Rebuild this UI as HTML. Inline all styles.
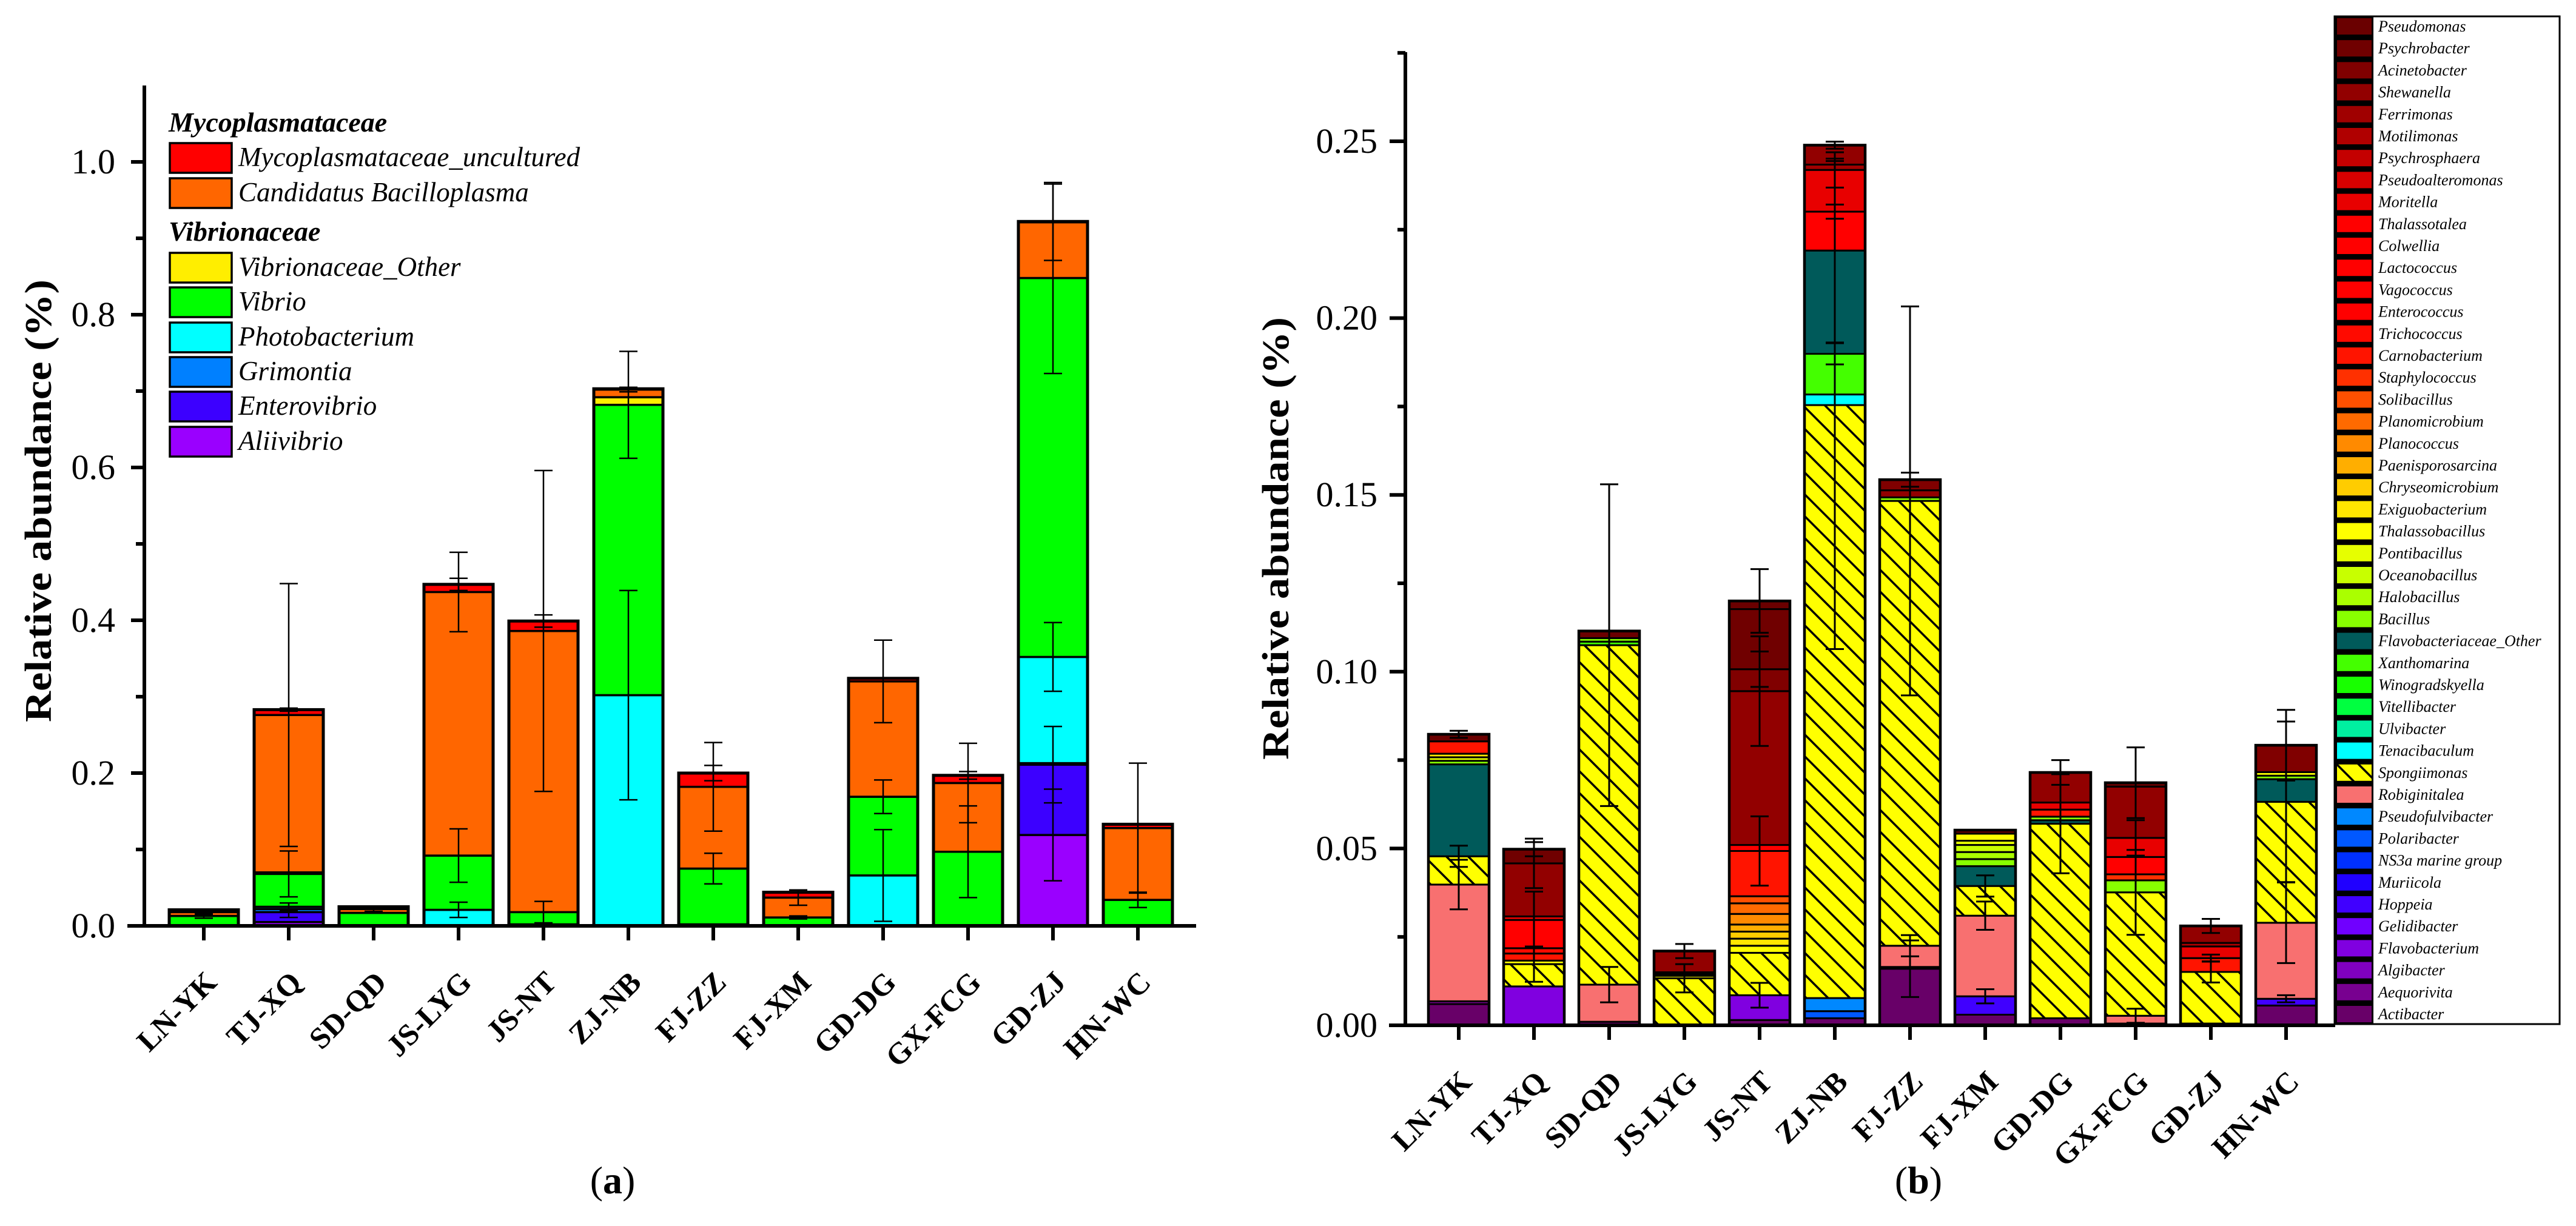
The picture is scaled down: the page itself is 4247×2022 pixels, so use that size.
<!DOCTYPE html>
<html><head><meta charset="utf-8"><style>
html,body{margin:0;padding:0;background:#fff;}
svg{display:block;}
svg text{font-family:"Liberation Serif","DejaVu Serif",serif;}
</style></head><body>
<svg id="fig" xmlns="http://www.w3.org/2000/svg" width="4247" height="2022" viewBox="0 0 4247 2022" font-family="Liberation Serif, serif">
<defs>
<pattern id="hatch" patternUnits="userSpaceOnUse" width="36" height="36">
<rect width="36" height="36" fill="#ffff00"/>
<path d="M-9,-9 L45,45 M-9,27 L9,45 M27,-9 L45,9" stroke="#000" stroke-width="3.5"/>
</pattern>
</defs>
<rect width="4247" height="2022" fill="#fff"/>
<g id="pa"></g>
<g id="pb"></g>
</svg>
<script>
const sites = ["LN-YK","TJ-XQ","SD-QD","JS-LYG","JS-NT","ZJ-NB","FJ-ZZ","FJ-XM","GD-DG","GX-FCG","GD-ZJ","HN-WC"];

// ---- Panel A data (bottom to top) ----
const aSeries = ["Aliivibrio","Enterovibrio","Grimontia","Photobacterium","Vibrio","Vibrionaceae_Other","Candidatus Bacilloplasma","Mycoplasmataceae_uncultured"];
const aColors = ["#9a00ff","#3c00ff","#0080ff","#00ffff","#00ff00","#ffee00","#ff6600","#ff0000"];
const aAliivibrio = [0,0.005,0,0,0,0,0,0,0,0,0.119,0];
const aEnterovibrio = [0,0.013,0,0,0,0,0,0,0,0,0.092,0];
const aGrimontia = [0,0.004,0,0,0,0,0,0,0,0,0.002,0];
const aPhotobacterium = [0,0.003,0,0.021,0.002,0.302,0.002,0,0.066,0,0.139,0];
const aVibrio = [0.013,0.043,0.017,0.071,0.016,0.380,0.073,0.011,0.103,0.097,0.496,0.034];
const aOther = [0,0.002,0,0,0,0.010,0,0,0,0,0,0];
const aCandidatus = [0.005,0.206,0.005,0.345,0.368,0.010,0.107,0.026,0.151,0.090,0.073,0.094];
const aMyco = [0.003,0.007,0.003,0.010,0.013,0.001,0.018,0.007,0.004,0.010,0.001,0.005];
const aValues = [aAliivibrio,aEnterovibrio,aGrimontia,aPhotobacterium,aVibrio,aOther,aCandidatus,aMyco];
const aErrors = [[0,4,0.003],[0,6,0.003],[1,1,0.007],[1,3,0.005],[1,4,0.03],[1,6,0.172],[1,7,0.002],[2,6,0.003],
[3,3,0.01],[3,4,0.035],[3,6,0.052],[3,7,0.008],[4,4,0.014],[4,6,0.21],[4,7,0.008],[5,3,0.137],[5,4,0.07],[5,6,0.003],
[6,4,0.02],[6,6,0.058],[6,7,0.01],[7,4,0.002],[7,6,0.01],[8,3,0.06],[8,4,0.022],[8,6,0.054],[9,4,0.06],[9,6,0.052],[9,7,0.005],
[10,0,0.06],[10,1,0.05],[10,3,0.045],[10,4,0.125],[10,6,0.05],[11,4,0.01],[11,6,0.085]];
const aTicks = ["0.0","0.2","0.4","0.6","0.8","1.0"];

// ---- Panel B data ----
const bLegend = ["Pseudomonas","Psychrobacter","Acinetobacter","Shewanella","Ferrimonas","Motilimonas","Psychrosphaera","Pseudoalteromonas","Moritella","Thalassotalea","Colwellia","Lactococcus","Vagococcus","Enterococcus","Trichococcus","Carnobacterium","Staphylococcus","Solibacillus","Planomicrobium","Planococcus","Paenisporosarcina","Chryseomicrobium","Exiguobacterium","Thalassobacillus","Pontibacillus","Oceanobacillus","Halobacillus","Bacillus","Flavobacteriaceae_Other","Xanthomarina","Winogradskyella","Vitellibacter","Ulvibacter","Tenacibaculum","Spongiimonas","Robiginitalea","Pseudofulvibacter","Polaribacter","NS3a marine group","Muriicola","Hoppeia","Gelidibacter","Flavobacterium","Algibacter","Aequorivita","Actibacter"];
const bColors = ["#6a0000","#700000","#800000","#920000","#a00000","#b00000","#c40000","#d80000","#e80000","#ff0000","#ff0000","#ff0000","#ff0000","#ff0000","#ff0a00","#ff1400","#ff3000","#ff5000","#ff6a00","#ff8a00","#ffae00","#ffcc00","#ffe600","#ffff00","#e6ff00","#c8ff00","#aaff00","#88ff00","#005a5a","#44ff00","#18ff00","#00ff40","#00f0a0","#00ffff","url(#hatch)","#f87070","#0088ff","#0058ff","#0030ff","#2000ff","#4000ff","#7000ff","#8000e0","#8000c0","#780090","#680068"];
const bActibacter = [0.006,0,0.001,0,0.0015,0.002,0.016,0.003,0.002,0.0005,0.0005,0.0056];
const bAequorivita = [0.0008,0,0,0,0,0,0.0005,0,0,0,0,0];
const bFlavobacterium = [0,0.011,0,0,0.007,0,0,0,0,0,0,0];
const bHoppeia = [0,0,0,0,0,0,0,0.0052,0,0,0,0.0019];
const bPolaribacter = [0,0,0,0,0,0.002,0,0,0,0,0,0];
const bPseudofulvibacter = [0,0,0,0,0,0.0037,0,0,0,0,0,0];
const bRobiginitalea = [0.033,0,0.0105,0,0,0,0.006,0.0228,0,0.0022,0,0.0215];
const bSpongiimonas = [0.008,0.0063,0.096,0.0133,0.012,0.1677,0.1258,0.0084,0.055,0.0349,0.0146,0.0342];
const bTenacibaculum = [0,0,0,0,0,0.003,0,0,0,0,0,0];
const bXanthomarina = [0,0,0.001,0,0,0.0115,0,0,0,0,0,0];
const bFlavoOther = [0.026,0,0,0,0,0.0292,0,0.0056,0.001,0,0,0.0064];
const bBacillus = [0.001,0,0.001,0,0,0,0.001,0.002,0.001,0.0034,0,0.001];
const bHalobacillus = [0,0,0,0,0,0,0,0.002,0,0,0,0];
const bOceanobacillus = [0,0,0,0,0,0,0,0.002,0,0,0,0];
const bPontibacillus = [0.001,0,0,0,0,0,0,0.0012,0,0,0,0];
const bThalassobacillus = [0,0.001,0,0.0007,0.002,0,0,0.002,0,0,0,0.001];
const bExiguobacterium = [0.001,0,0,0,0.002,0,0,0,0,0,0,0];
const bChryseomicrobium = [0,0,0,0,0.002,0,0,0,0,0,0,0];
const bPaenisporosarcina = [0,0,0,0.0005,0.002,0,0,0,0,0,0,0];
const bPlanococcus = [0,0,0,0,0.003,0,0,0,0,0,0,0];
const bPlanomicrobium = [0,0,0,0.0005,0.003,0,0,0,0,0,0,0];
const bSolibacillus = [0,0,0,0,0.002,0,0,0,0,0,0,0];
const bStaphylococcus = [0,0,0,0,0,0,0,0,0,0.0017,0,0];
const bCarnobacterium = [0.0035,0.002,0,0,0.0128,0,0,0,0.002,0,0.0039,0];
const bTrichococcus = [0,0.0015,0,0,0,0,0,0,0,0,0,0];
const bEnterococcus = [0,0,0,0,0,0,0,0,0,0.0049,0,0];
const bLactococcus = [0,0.008,0,0,0,0.011,0,0,0,0,0,0];
const bThalassotalea = [0,0,0,0,0.0017,0,0,0,0,0,0,0];
const bMoritella = [0,0.001,0,0,0,0.0118,0,0,0.002,0.0054,0.0033,0];
const bMotilimonas = [0,0,0,0,0,0,0,0,0,0,0.001,0];
const bFerrimonas = [0,0,0,0,0,0.0015,0,0,0,0,0,0];
const bShewanella = [0,0.015,0,0.006,0.0435,0.0055,0.002,0,0.0085,0.0145,0.0048,0];
const bAcinetobacter = [0,0,0,0,0.0062,0,0.003,0,0,0,0,0.0076];
const bPsychrobacter = [0,0.004,0,0,0.017,0,0,0,0,0,0,0];
const bPseudomonas = [0.002,0,0.002,0,0.0023,0,0,0.001,0,0.0011,0,0];
const bValueMap = {"Actibacter":bActibacter,"Aequorivita":bAequorivita,"Flavobacterium":bFlavobacterium,"Hoppeia":bHoppeia,"Polaribacter":bPolaribacter,"Pseudofulvibacter":bPseudofulvibacter,"Robiginitalea":bRobiginitalea,"Spongiimonas":bSpongiimonas,"Tenacibaculum":bTenacibaculum,"Xanthomarina":bXanthomarina,"Flavobacteriaceae_Other":bFlavoOther,"Bacillus":bBacillus,"Halobacillus":bHalobacillus,"Oceanobacillus":bOceanobacillus,"Pontibacillus":bPontibacillus,"Thalassobacillus":bThalassobacillus,"Exiguobacterium":bExiguobacterium,"Chryseomicrobium":bChryseomicrobium,"Paenisporosarcina":bPaenisporosarcina,"Planococcus":bPlanococcus,"Planomicrobium":bPlanomicrobium,"Solibacillus":bSolibacillus,"Staphylococcus":bStaphylococcus,"Carnobacterium":bCarnobacterium,"Trichococcus":bTrichococcus,"Enterococcus":bEnterococcus,"Lactococcus":bLactococcus,"Thalassotalea":bThalassotalea,"Moritella":bMoritella,"Motilimonas":bMotilimonas,"Ferrimonas":bFerrimonas,"Shewanella":bShewanella,"Acinetobacter":bAcinetobacter,"Psychrobacter":bPsychrobacter,"Pseudomonas":bPseudomonas};
const bErrors = [[0,"Robiginitalea",0.007],[0,"Spongiimonas",0.003],[0,"Pseudomonas",0.001],
[1,"Spongiimonas",0.005],[1,"Lactococcus",0.008],[1,"Shewanella",0.007],[1,"Psychrobacter",0.002],
[2,"Robiginitalea",0.005],[2,"Spongiimonas",0.0455],[3,"Spongiimonas",0.004],[3,"Shewanella",0.002],
[4,"Flavobacterium",0.0035],[4,"Carnobacterium",0.0098],[4,"Shewanella",0.0155],[4,"Acinetobacter",0.005],[4,"Pseudomonas",0.009],
[5,"Spongiimonas",0.069],[5,"Xanthomarina",0.003],[5,"Flavobacteriaceae_Other",0.026],[5,"Lactococcus",0.002],[5,"Moritella",0.005],[5,"Shewanella",0.001],
[6,"Actibacter",0.008],[6,"Robiginitalea",0.003],[6,"Spongiimonas",0.055],[6,"Acinetobacter",0.002],
[7,"Hoppeia",0.002],[7,"Robiginitalea",0.004],[7,"Spongiimonas",0.003],[8,"Spongiimonas",0.014],[8,"Shewanella",0.0035],
[9,"Robiginitalea",0.002],[9,"Spongiimonas",0.012],[9,"Moritella",0.005],[9,"Pseudomonas",0.01],
[10,"Spongiimonas",0.003],[10,"Carnobacterium",0.001],[10,"Shewanella",0.002],
[11,"Hoppeia",0.001],[11,"Robiginitalea",0.0114],[11,"Spongiimonas",0.0227],[11,"Acinetobacter",0.01]];
const bTicks = ["0.00","0.05","0.10","0.15","0.20","0.25"];

const NS = "http://www.w3.org/2000/svg";
const FONT = "Liberation Serif, serif";
function mk(parent, tag, attrs, txt){
  const e = document.createElementNS(NS, tag);
  for (const k in attrs) e.setAttribute(k, attrs[k]);
  if (tag === "text") e.setAttribute("font-family", FONT);
  if (txt !== undefined) e.textContent = txt;
  parent.appendChild(e);
  return e;
}

function drawPanel(g, cfg){
  const y = v => cfg.y0 - v * cfg.scale;
  const x = i => cfg.x0 + i * cfg.step;
  const nS = cfg.series.length;
  const cums = [];
  for (let i = 0; i < sites.length; i++){
    let c = 0; const cum = [];
    const bar = mk(g, "g", {});
    
    
    for (let s = 0; s < nS; s++){
      const v = cfg.vals(s)[i];
      const b = c; c += v; cum.push([b, c]);
      if (v <= 0) continue;
      const r = mk(bar, "rect", {x: x(i) - cfg.bw/2, y: y(c), width: cfg.bw, height: Math.max(y(b) - y(c), 0.5), fill: cfg.colors[s], stroke: "#000", "stroke-width": cfg.segStroke});
      
      
    }
    if (c > 0){
      const o = mk(bar, "rect", {x: x(i) - cfg.bw/2, y: y(c), width: cfg.bw, height: y(0) - y(c), fill: "none", stroke: "#000", "stroke-width": cfg.outStroke});
      
      
    }
    cums.push(cum);
  }
  cfg.errors.forEach(e => {
    const i = e[0], s = cfg.sIndex(e[1]), err = e[2];
    const top = cums[i][s][1];
    const eg = mk(g, "g", {stroke: "#000", "stroke-width": cfg.errStroke});
    
    
    mk(eg, "line", {x1: x(i), x2: x(i), y1: y(top + err), y2: y(Math.max(top - err, 0))});
    mk(eg, "line", {x1: x(i) - 15, x2: x(i) + 15, y1: y(top + err), y2: y(top + err)});
    mk(eg, "line", {x1: x(i) - 15, x2: x(i) + 15, y1: y(Math.max(top - err, 0)), y2: y(Math.max(top - err, 0))});
  });
  const ax = mk(g, "g", {stroke: "#000"});
  
  
  mk(ax, "line", {x1: cfg.yAxisX, x2: cfg.yAxisX, y1: cfg.axisTop, y2: cfg.y0 + 3, "stroke-width": 6});
  mk(ax, "line", {x1: cfg.xAxisL, x2: cfg.xAxisR, y1: cfg.y0, y2: cfg.y0, "stroke-width": 6});
  for (let k = 0; k <= cfg.nMinor; k++){
    const v = k * cfg.minorStep;
    const major = k % 2 === 0;
    mk(ax, "line", {x1: cfg.yAxisX - (major ? cfg.majLen : cfg.minLen), x2: cfg.yAxisX, y1: y(v), y2: y(v), "stroke-width": 6});
  }
  cfg.ticks.forEach((t, k) => {
    const tl = mk(g, "text", {x: cfg.tickLabelX, y: y(k * cfg.minorStep * 2) + 19, "text-anchor": "end", "font-size": 58}, t);
    
    
  });
  for (let i = 0; i < sites.length; i++){
    mk(ax, "line", {x1: x(i), x2: x(i), y1: cfg.y0, y2: cfg.y0 + 24, "stroke-width": 6});
    const ax_ = x(i) + 24, ay = cfg.y0 + 96;
    const tl = mk(g, "text", {x: ax_, y: ay, "text-anchor": "end", "font-size": 50, "font-weight": "bold", transform: `rotate(-45 ${ax_} ${ay})`}, sites[i]);
    
    
  }
  const yt = mk(g, "text", {x: cfg.titleX, y: cfg.titleY, "text-anchor": "middle", "font-size": 62, "font-weight": "bold", textLength: 730, lengthAdjust: "spacingAndGlyphs", transform: `rotate(-90 ${cfg.titleX} ${cfg.titleY})`}, "Relative abundance (%)");
  
  
  const pl = mk(g, "text", {x: cfg.labelX, y: 1968, "text-anchor": "middle", "font-size": 64}, "(");
  
  
  mk(pl, "tspan", {"font-weight": "bold"}, cfg.letter);
  mk(pl, "tspan", {}, ")");
}

// Panel A
const ga = document.getElementById("pa");
drawPanel(ga, {y0: 1527, scale: 1260, x0: 336, step: 140, bw: 114, series: aSeries, colors: aColors,
  vals: s => aValues[s], sIndex: s => s, errors: aErrors, segStroke: 3.5, outStroke: 5, errStroke: 2.5,
  yAxisX: 238, axisTop: 141, xAxisL: 210, xAxisR: 1972, nMinor: 10, minorStep: 0.1, majLen: 22, minLen: 14,
  ticks: aTicks, tickLabelX: 190, titleX: 84, titleY: 826, labelX: 1010, letter: "a"});

// Legend A
const la = mk(ga, "g", {});


const h1 = mk(la, "text", {x: 278, y: 217, "font-size": 46, "font-weight": "bold", "font-style": "italic"}, "Mycoplasmataceae");


const h2 = mk(la, "text", {x: 278, y: 397, "font-size": 46, "font-weight": "bold", "font-style": "italic"}, "Vibrionaceae");


const legA = [[7,236],[6,294],[5,417],[4,474],[3,532],[2,589],[1,646],[0,704]];
legA.forEach(([s, ty]) => {
  const e = mk(la, "g", {});
  
  
  mk(e, "rect", {x: 280, y: ty, width: 102, height: 49, fill: aColors[s], stroke: "#000", "stroke-width": 3.5});
  mk(e, "text", {x: 393, y: ty + 38, "font-size": 45, "font-style": "italic"}, aSeries[s]);
});

// Panel B
const gb = document.getElementById("pb");
const bOrder = bLegend.slice().reverse();
drawPanel(gb, {y0: 1691, scale: 5832, x0: 2405, step: 124, bw: 100, series: bOrder, colors: bColors.slice().reverse(),
  vals: s => bValueMap[bOrder[s]] || sites.map(() => 0), sIndex: n => bOrder.indexOf(n), errors: bErrors, segStroke: 3, outStroke: 4.5, errStroke: 3,
  yAxisX: 2317, axisTop: 86, xAxisL: 2290, xAxisR: 3850, nMinor: 11, minorStep: 0.025, majLen: 26, minLen: 13,
  ticks: bTicks, tickLabelX: 2271, titleX: 2124, titleY: 888, labelX: 3163, letter: "b"});

// Legend B
const lb = mk(gb, "g", {});


mk(lb, "rect", {x: 3849, y: 27, width: 371, height: 1662, fill: "#fff", stroke: "#000", "stroke-width": 3});
mk(lb, "rect", {x: 3849, y: 27, width: 64, height: 1662, fill: "#000"});
bLegend.forEach((n, k) => {
  const cy = 43 + k * 36.2;
  const e = mk(lb, "g", {});
  
  
  mk(e, "rect", {x: 3853, y: cy - 13, width: 57, height: 27, fill: bColors[k]});
  mk(e, "text", {x: 3921, y: cy + 9, "font-size": 26, "font-style": "italic"}, n);
});
</script>
</body></html>
